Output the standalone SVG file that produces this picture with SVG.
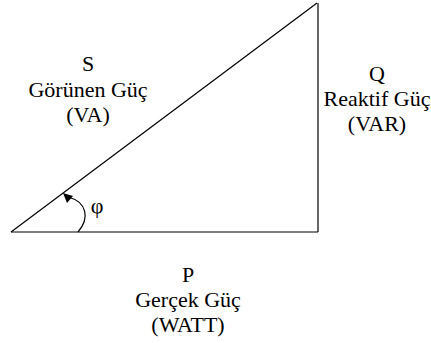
<svg xmlns="http://www.w3.org/2000/svg" width="431" height="343" viewBox="0 0 431 343" font-family="Liberation Serif, Times New Roman, serif">
<style>
svg{font-family:'Liberation Serif','Times New Roman',serif}
text{font-family:'Liberation Serif','Times New Roman',serif;font-size:22px;fill:#000;text-anchor:middle}
.ln{stroke:#000;stroke-width:1.2;fill:none}
</style>
<rect width="431" height="343" fill="#fff"/>
<g id="connectors">
<path id="hyp" class="ln" d="M11,232 L317,3"/>
<path id="adj" class="ln" d="M11,232 L318,232"/>
<path id="opp" class="ln" d="M318,3 L318,232"/>
<path id="angle" class="ln" d="M78,232 C90,218 87,202 68,197"/>
<path id="arrowhead" d="M63,193 L73,196 L67,203 Z" fill="#000"/>
</g>
<g id="S" font-family="Liberation Serif, Times New Roman, serif"><text x="88" y="71" font-family="Times New Roman">S</text><text x="88" y="96.5" font-family="Times New Roman">Görünen Güç</text><text x="88" y="122" font-family="Times New Roman">(VA)</text></g>
<g id="Q" font-family="Liberation Serif, Times New Roman, serif"><text x="377" y="81" font-family="Times New Roman">Q</text><text x="377" y="106" font-family="Times New Roman">Reaktif Güç</text><text x="377" y="131" font-family="Times New Roman">(VAR)</text></g>
<g id="P" font-family="Liberation Serif, Times New Roman, serif"><text x="188" y="281.5" font-family="Times New Roman">P</text><text x="188" y="306.5" font-family="Times New Roman">Gerçek Güç</text><text x="188" y="331.5" font-family="Times New Roman">(WATT)</text></g>
<g id="phi" font-family="Liberation Serif, Times New Roman, serif"><text x="97" y="213" font-size="21" font-family="Times New Roman">φ</text></g>
</svg>
